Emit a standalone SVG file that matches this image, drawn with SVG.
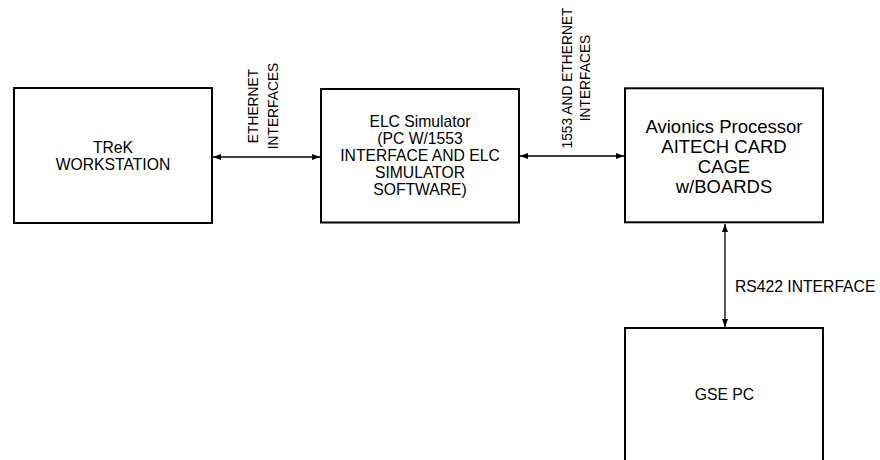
<svg xmlns="http://www.w3.org/2000/svg" width="880" height="460" viewBox="0 0 880 460">
<defs>
<marker id="ah" markerUnits="userSpaceOnUse" markerWidth="9" markerHeight="7" refX="8" refY="3" orient="auto-start-reverse">
<path d="M0,0 L8,3 L0,6 z" fill="#000"/>
</marker>
<style>
.box{fill:#fff;stroke:#000;stroke-width:2}
.t{font-family:"Liberation Sans",Arial,sans-serif;fill:#000;text-anchor:middle}
.s16{font-size:15.7px}
.s18{font-size:18.5px}
.s14{font-size:13.8px}
.c{stroke:#000;stroke-width:1.3;fill:none;marker-start:url(#ah);marker-end:url(#ah)}
</style>
</defs>
<rect width="880" height="460" fill="#fff"/>
<g id="connectors">
<line class="c" x1="213" y1="157" x2="320" y2="157"/>
<line class="c" x1="520" y1="156" x2="624" y2="156"/>
<line class="c" x1="725" y1="224" x2="725" y2="327"/>
</g>
<g id="label-ethernet">
<text class="t s14" transform="translate(258,106) rotate(-90)">ETHERNET</text>
<text class="t s14" transform="translate(278,106) rotate(-90)">INTERFACES</text>
</g>
<g id="label-1553">
<text class="t s14" transform="translate(572,78) rotate(-90)">1553 AND ETHERNET</text>
<text class="t s14" transform="translate(590,78) rotate(-90)">INTERFACES</text>
</g>
<g id="label-rs422">
<text class="t s16" x="735" y="292" style="text-anchor:start">RS422 INTERFACE</text>
</g>
<g id="trek">
<rect class="box" x="14" y="88" width="198" height="135"/>
<text class="t s16" x="113" y="153">TReK</text>
<text class="t s16" x="113" y="170">WORKSTATION</text>
</g>
<g id="elc">
<rect class="box" x="321" y="89" width="198" height="133.5"/>
<text class="t s16" x="420" y="127">ELC Simulator</text>
<text class="t s16" x="420" y="144">(PC W/1553</text>
<text class="t s16" x="420" y="161">INTERFACE AND ELC</text>
<text class="t s16" x="420" y="177.5">SIMULATOR</text>
<text class="t s16" x="420" y="194.5">SOFTWARE)</text>
</g>
<g id="avionics">
<rect class="box" x="625" y="88.3" width="198" height="134"/>
<text class="t s18" x="724" y="132.5">Avionics Processor</text>
<text class="t s18" x="724" y="152.5">AITECH CARD</text>
<text class="t s18" x="724" y="172.5">CAGE</text>
<text class="t s18" x="724" y="192.5">w/BOARDS</text>
</g>
<g id="gse">
<rect class="box" x="625" y="328" width="198" height="145"/>
<text class="t s16" x="724.5" y="400">GSE PC</text>
</g>
</svg>
